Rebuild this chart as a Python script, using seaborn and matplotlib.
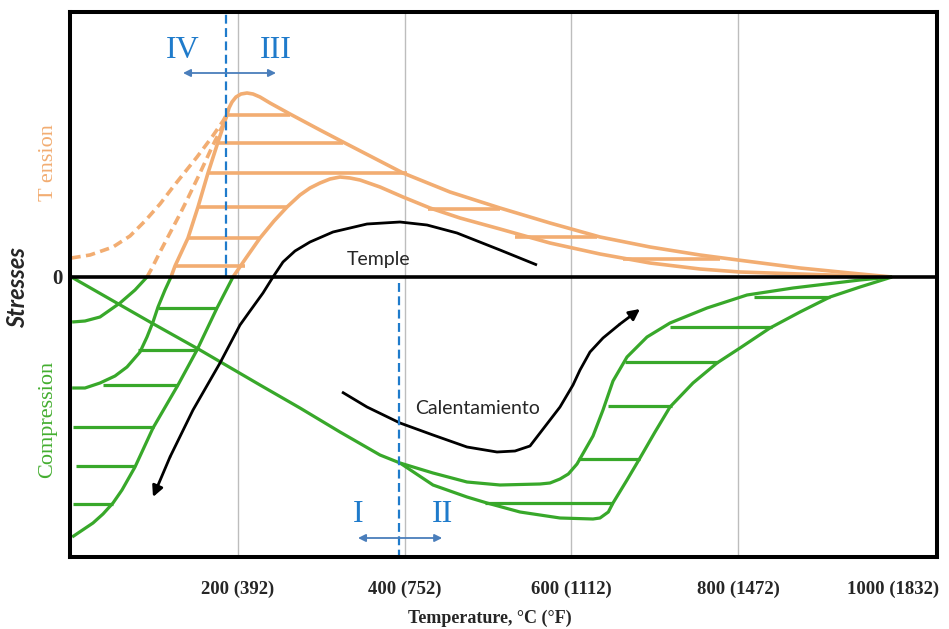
import pandas as pd
import matplotlib
matplotlib.use("Agg")
import matplotlib.pyplot as plt
import matplotlib.transforms as mtransforms
import seaborn as sns

# Temperature axis (°C), Fahrenheit equivalents in the labels
tick_temps = [200, 400, 600, 800, 1000]
tick_labels = ["200 (392)", "400 (752)", "600 (1112)", "800 (1472)", "1000 (1832)"]
grid_temps = [200, 400, 600, 800]

# Tension envelope (relative stress, positive = tension)
tension_outer_t = [119.6, 124.4, 140.0, 152.0, 164.0, 176.0, 186.8, 189.2, 192.8, 197.6, 203.6,
                   210.8, 218.0, 226.4, 238.4, 262.4, 298.4, 326.0, 398.0, 454.4, 514.4, 574.4,
                   634.4, 694.4, 754.4, 800.0, 874.4, 934.4, 984.8]
tension_outer_s = [0.00, 0.11, 0.39, 0.70, 1.04, 1.35, 1.62, 1.69, 1.75, 1.80, 1.83,
                   1.84, 1.83, 1.80, 1.74, 1.63, 1.47, 1.35, 1.04, 0.85, 0.69, 0.54,
                   0.40, 0.30, 0.22, 0.17, 0.09, 0.04, 0.00]
tension_inner_t = [194.0, 209.6, 226.4, 243.2, 258.8, 274.4, 286.4, 298.4, 310.4, 322.4, 334.4,
                   346.4, 370.4, 398.0, 430.4, 466.4, 514.4, 574.4, 634.4, 694.4, 754.4, 802.4,
                   874.4, 984.8]
tension_inner_s = [0.00, 0.19, 0.39, 0.56, 0.70, 0.82, 0.89, 0.94, 0.98, 1.00, 0.99,
                   0.97, 0.90, 0.80, 0.69, 0.59, 0.48, 0.34, 0.23, 0.14, 0.08, 0.05,
                   0.03, 0.00]
tension_dash_a_t = [0.0, 22.4, 50.0, 70.4, 88.4, 106.4, 122.0, 136.4, 150.8, 168.8, 182.0, 186.8]
tension_dash_a_s = [0.19, 0.22, 0.30, 0.41, 0.56, 0.73, 0.90, 1.05, 1.20, 1.40, 1.56, 1.63]
tension_dash_b_t = [90.8, 96.8, 106.4, 118.4, 130.4, 138.8, 154.4, 170.0, 182.0, 186.8]
tension_dash_b_s = [0.00, 0.09, 0.25, 0.44, 0.63, 0.77, 1.04, 1.32, 1.52, 1.63]
tension_hatch_s = [1.62, 1.34, 1.04, 0.70, 0.39, 0.11, 0.68, 0.40, 0.18]
tension_hatch_t0 = [186.8, 173.6, 164.0, 152.0, 140.0, 124.4, 428.0, 532.4, 662.0]
tension_hatch_t1 = [262.4, 326.0, 402.8, 258.8, 226.4, 208.4, 514.4, 630.8, 778.4]

# Compression envelope (negative = compression)
comp_main_t = [0.0, 94.4, 154.4, 226.4, 274.4, 322.4, 370.4, 394.4]
comp_main_s = [0.00, -0.45, -0.73, -1.08, -1.31, -1.55, -1.78, -1.86]
comp_upper_t = [394.4, 434.0, 474.8, 514.4, 562.4, 574.4, 586.4, 596.4, 606.8, 626.0, 638.0,
                650.0, 666.8, 690.8, 718.4, 762.8, 810.8, 866.0, 946.4, 984.8]
comp_upper_s = [-1.86, -1.96, -2.05, -2.08, -2.07, -2.06, -2.02, -1.97, -1.87, -1.59, -1.33,
                -1.04, -0.80, -0.60, -0.46, -0.31, -0.18, -0.11, -0.03, 0.00]
comp_lower_t = [394.4, 434.0, 474.8, 498.8, 538.4, 586.4, 626.0, 634.4, 644.4, 650.0, 666.8,
                682.4, 700.4, 718.4, 746.0, 774.8, 802.4, 838.4, 874.4, 910.4, 946.4, 984.8]
comp_lower_s = [-1.86, -2.08, -2.20, -2.26, -2.35, -2.41, -2.42, -2.41, -2.35, -2.26, -2.03,
                -1.81, -1.55, -1.30, -1.06, -0.86, -0.71, -0.51, -0.35, -0.20, -0.10, 0.00]
comp_left_a_t = [1.0, 16.4, 34.4, 58.4, 76.4, 90.8]
comp_left_a_s = [-0.45, -0.44, -0.40, -0.26, -0.13, 0.00]
comp_left_b_t = [1.0, 16.4, 34.4, 52.4, 66.8, 82.4, 90.8, 98.0, 104.0, 112.4, 119.6]
comp_left_b_s = [-1.11, -1.11, -1.06, -0.99, -0.90, -0.75, -0.60, -0.45, -0.30, -0.13, 0.00]
comp_left_c_t = [194.0, 174.8, 150.8, 128.0, 98.0, 76.4, 60.8, 50.0, 38.0, 26.0, 1.0]
comp_left_c_s = [0.00, -0.31, -0.73, -1.08, -1.51, -1.90, -2.13, -2.26, -2.37, -2.46, -2.60]
comp_hatch_s = [-0.31, -0.73, -1.08, -1.50, -1.89, -2.27, -0.20, -0.50, -0.85, -1.29, -1.82, -2.26]
comp_hatch_t0 = [104.0, 80.0, 38.4, 2.0, 5.6, 2.0, 819.2, 718.4, 664.4, 644.0, 608.0, 496.4]
comp_hatch_t1 = [174.8, 150.8, 128.0, 99.2, 76.4, 50.0, 910.4, 840.8, 776.0, 720.8, 682.4, 650.0]

# Process paths
temple_t = [558.8, 514.4, 462.8, 426.8, 394.4, 354.8, 314.0, 286.4, 268.4, 254.0, 242.0,
            230.0, 214.4, 202.4, 178.4, 146.0, 118.4, 98.0]
temple_s = [0.12, 0.27, 0.44, 0.52, 0.55, 0.53, 0.45, 0.35, 0.26, 0.15, 0.00,
            -0.16, -0.34, -0.48, -0.86, -1.33, -1.80, -2.20]
heating_t = [324.8, 354.8, 394.4, 434.0, 474.8, 510.8, 532.4, 550.4, 562.4, 586.4, 602.0,
             610.4, 622.4, 638.0, 658.4, 682.4]
heating_s = [-1.15, -1.30, -1.46, -1.58, -1.70, -1.75, -1.74, -1.69, -1.56, -1.30, -1.08,
             -0.93, -0.75, -0.61, -0.47, -0.32]

# Zone boundaries and zone labels
zone_upper_t = 185.6
zone_lower_t = 393.0
zone_upper_arrow = (134.0, 245.6, 2.04)
zone_lower_arrow = (344.0, 445.0, -2.61)
zone_names = ["IV", "III", "I", "II"]
zone_t = [134.0, 245.6, 344.0, 445.0]
zone_s = [2.27, 2.27, -2.38, -2.38]

ORANGE = "#F2AD72"
GREEN = "#38A82A"
BLUE = "#1F7BCB"
ARROW_BLUE = "#4A7EBB"
SERIF = "Liberation Serif"
SANS = "Lato"

sns.set_style("white")
plt.rcParams["font.family"] = ["DejaVu Sans"]
plt.rcParams["lines.solid_joinstyle"] = "round"
plt.rcParams["lines.solid_capstyle"] = "butt"

fig = plt.figure(figsize=(9.49, 6.29), dpi=100)
ax = fig.add_axes([70 / 949, 72 / 629, 867 / 949, 545 / 629])
ax.set_xlim(-1.6, 1038.8)
ax.set_ylim(-2.80, 2.65)


def curve(t, s, color, lw, ls="-"):
    df = pd.DataFrame({"T": t, "S": s})
    sns.lineplot(data=df, x="T", y="S", sort=False, estimator=None, color=color,
                 linewidth=lw, linestyle=ls, ax=ax, zorder=3)


for gx in grid_temps:
    ax.axvline(gx, color="#BDBDBD", lw=1.0, zorder=1)

# tension
curve(tension_outer_t, tension_outer_s, ORANGE, 2.6)
curve(tension_inner_t, tension_inner_s, ORANGE, 2.6)
curve(tension_dash_a_t, tension_dash_a_s, ORANGE, 2.6, (0, (2.6, 1.5)))
curve(tension_dash_b_t, tension_dash_b_s, ORANGE, 2.6, (0, (2.6, 1.5)))
ax.hlines(tension_hatch_s, tension_hatch_t0, tension_hatch_t1, color=ORANGE, lw=2.6, zorder=3)

# compression
curve(comp_main_t, comp_main_s, GREEN, 2.3)
curve(comp_upper_t, comp_upper_s, GREEN, 2.3)
curve(comp_lower_t, comp_lower_s, GREEN, 2.3)
curve(comp_left_a_t, comp_left_a_s, GREEN, 2.3)
curve(comp_left_b_t, comp_left_b_s, GREEN, 2.3)
curve(comp_left_c_t, comp_left_c_s, GREEN, 2.3)
ax.hlines(comp_hatch_s, comp_hatch_t0, comp_hatch_t1, color=GREEN, lw=2.3, zorder=3)

# quenching / heating paths with arrow heads
for t, s in ((temple_t, temple_s), (heating_t, heating_s)):
    curve(t[:-1], s[:-1], "black", 2.0)
    ax.annotate("", xy=(t[-1], s[-1]), xytext=(t[-2], s[-2]),
                arrowprops=dict(arrowstyle="-|>", color="black", lw=2.0,
                                mutation_scale=16, shrinkA=0, shrinkB=0), zorder=4)

ax.axhline(0, color="black", lw=2.6, zorder=5)

# zone boundaries
ax.plot([zone_upper_t, zone_upper_t], [0, 2.65], color=BLUE, lw=1.6,
        linestyle=(0, (4, 2)), zorder=4)
ax.plot([zone_lower_t, zone_lower_t], [-0.06, -2.80], color=BLUE, lw=1.6,
        linestyle=(0, (4, 2)), zorder=4)
for x0, x1, y in (zone_upper_arrow, zone_lower_arrow):
    ax.annotate("", xy=(x1, y), xytext=(x0, y),
                arrowprops=dict(arrowstyle="<|-|>", color=ARROW_BLUE, lw=1.3,
                                mutation_scale=11, shrinkA=0, shrinkB=0), zorder=4)
for name, t, s in zip(zone_names, zone_t, zone_s):
    ax.text(t, s, name, color=BLUE, fontsize=23, family=SERIF, ha="center", va="center")

ax.text(368.6, 0.17, "Temple", fontsize=14, family=SANS, ha="center", va="center")
ax.text(487.0, -1.31, "Calentamiento", fontsize=14, family=SANS, ha="center", va="center")

ax.text(-27.0, 1.14, "T ension", color=ORANGE, fontsize=16, family=SERIF,
        rotation=90, ha="center", va="center")
ax.text(-29.0, -1.42, "Compression", color="#44AE30", fontsize=16, family=SERIF,
        rotation=90, ha="center", va="center")

# axes decoration
for sp in ax.spines.values():
    sp.set_visible(True)
    sp.set_color("black")
    sp.set_linewidth(2.9)
    sp.set_zorder(6)

ax.set_xticks(tick_temps)
ax.set_xticklabels(tick_labels, fontsize=13.5, family=SERIF, fontweight="bold")
ax.set_yticks([0])
ax.set_yticklabels(["0"], fontsize=15, family=SERIF, fontweight="bold")
ax.tick_params(axis="x", length=0, pad=17)
ax.tick_params(axis="y", length=0, pad=5)

# keep the last temperature label inside the figure
last = ax.get_xticklabels()[-1]
last.set_transform(last.get_transform() + mtransforms.ScaledTranslation(-12 / 100, 0, fig.dpi_scale_trans))

ax.set_xlabel("Temperature, °C (°F)", fontsize=13, family=SERIF, fontweight="bold")
ax.xaxis.set_label_coords(0.484, -0.112)
ax.xaxis.label.set_verticalalignment("center")
ax.set_ylabel("Stresses", fontsize=17, family=SANS, fontstyle="italic", fontweight="bold")
ax.yaxis.set_label_coords(-0.06, 0.4936)
ax.yaxis.label.set_verticalalignment("center")

fig.savefig("out.png", dpi=100, facecolor="white")
